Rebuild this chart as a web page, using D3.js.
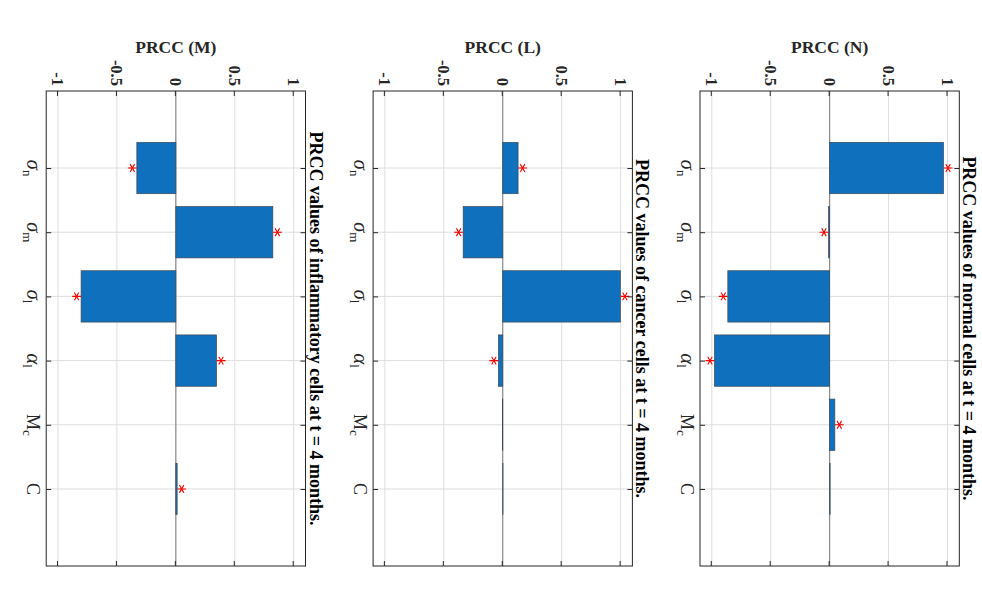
<!DOCTYPE html>
<html>
<head>
<meta charset="utf-8">
<script src="https://cdn.jsdelivr.net/npm/d3@7/dist/d3.min.js"></script>
<style>
  html, body { margin: 0; padding: 0; background: #fff; }
  svg { display: block; }
</style>
</head>
<body>
<svg id="chart" width="982" height="606"></svg>
<script>
(function () {
    "use strict";

    // categories (base symbol + subscript)
    var catBase = ["σ", "σ", "σ", "α", "M", "C"];
    var catSub = ["n", "m", "l", "l", "c", ""];
    var catItalic = [true, true, true, true, false, false];

    // PRCC values
    var valuesN = [0.966, -0.010, -0.864, -0.977, 0.044, 0.004];
    var valuesL = [0.130, -0.336, 0.998, -0.037, -0.002, 0.002];
    var valuesM = [-0.331, 0.823, -0.804, 0.345, 0.000, 0.011];

    // significance markers
    var starsN = [1, 1, 1, 1, 1, 0];
    var starsL = [1, 1, 1, 1, 0, 0];
    var starsM = [1, 1, 1, 1, 0, 1];

    var valueTicks = [-1, -0.5, 0, 0.5, 1];
    var tickLabels = ["-1", "-0.5", "0", "0.5", "1"];

    var titles = [
        "PRCC values of normal cells at t = 4 months.",
        "PRCC values of cancer cells at t = 4 months.",
        "PRCC values of inflammatory cells at t = 4 months."
    ];
    var yLabels = ["PRCC (N)", "PRCC (L)", "PRCC (M)"];

    var panels = [
        {values: valuesN, stars: starsN, title: titles[0], ylabel: yLabels[0]},
        {values: valuesL, stars: starsL, title: titles[1], ylabel: yLabels[1]},
        {values: valuesM, stars: starsM, title: titles[2], ylabel: yLabels[2]}
    ];

    var W = 982;
    var serif = "'Liberation Serif', 'Times New Roman', serif";
    var ink = "#262626";

    // the figure is drawn upright, then turned a quarter turn clockwise
    var svg = d3.select("#chart");
    svg.append("rect").attr("width", 982).attr("height", 606).attr("fill", "#fff");
    var root = svg.append("g").attr("transform", "translate(" + W + ",0) rotate(90)");

    var left = 91, right = 566;
    var panelH = 259.3, firstTop = 22.7, step = 326.9;

    var x = d3.scaleLinear().domain([-0.2, 7.2]).range([left, right]);
    var catPos = catBase.map(function (d, i) { return i + 1; });

    panels.forEach(function (p, k) {
        var top = firstTop + k * step, bottom = top + panelH;
        var y = d3.scaleLinear().domain([-1.1, 1.1]).range([bottom, top]);
        var g = root.append("g").attr("class", "panel");

        // grid
        g.append("g").selectAll("line").data(valueTicks).enter()
            .append("line")
            .attr("x1", left).attr("x2", right)
            .attr("y1", function (d) { return y(d); })
            .attr("y2", function (d) { return y(d); })
            .attr("stroke", "#dedede").attr("stroke-width", 1);
        g.append("g").selectAll("line").data(catPos).enter()
            .append("line")
            .attr("y1", top).attr("y2", bottom)
            .attr("x1", function (d) { return x(d); })
            .attr("x2", function (d) { return x(d); })
            .attr("stroke", "#dedede").attr("stroke-width", 1);

        // baseline
        g.append("line")
            .attr("x1", left).attr("x2", right)
            .attr("y1", y(0)).attr("y2", y(0))
            .attr("stroke", "#6e6e6e").attr("stroke-width", 0.9);

        // bars
        g.append("g").selectAll("rect").data(p.values).enter()
            .append("rect")
            .attr("x", function (d, i) { return x(catPos[i] - 0.4); })
            .attr("width", function (d, i) { return x(catPos[i] + 0.4) - x(catPos[i] - 0.4); })
            .attr("y", function (d) { return y(Math.max(d, 0)); })
            .attr("height", function (d) { return Math.abs(y(d) - y(0)); })
            .attr("fill", "#0f70bd")
            .attr("stroke", "#3d4a57").attr("stroke-width", 0.7);

        // stars
        var starPath = "M0,-4.5L0,4.5M-3.9,-2.25L3.9,2.25M-3.9,2.25L3.9,-2.25";
        g.append("g").selectAll("path").data(p.values.map(function (v, i) {
            return {v: v, i: i, s: p.stars[i]};
        }).filter(function (d) { return d.s; })).enter()
            .append("path")
            .attr("d", starPath)
            .attr("transform", function (d) {
                var off = d.v >= 0 ? -4.5 : 4.5;
                return "translate(" + x(catPos[d.i]) + "," + (y(d.v) + off) + ")";
            })
            .attr("stroke", "#ff0000").attr("stroke-width", 1.1).attr("fill", "none");

        // value axes
        var yAxisL = d3.axisLeft(y).tickValues(valueTicks)
            .tickFormat(function (d, i) { return tickLabels[i]; })
            .tickSizeInner(-5).tickSizeOuter(0).tickPadding(5);
        var ga = g.append("g").attr("transform", "translate(" + left + ",0)").call(yAxisL);
        ga.attr("font-family", serif).attr("font-size", 16.5).attr("font-weight", "bold");
        ga.select(".domain").remove();
        ga.selectAll("line").attr("stroke", ink);
        ga.selectAll("text").attr("fill", ink);

        var yAxisR = d3.axisRight(y).tickValues(valueTicks).tickFormat("")
            .tickSizeInner(-5).tickSizeOuter(0);
        var gr = g.append("g").attr("transform", "translate(" + right + ",0)").call(yAxisR);
        gr.select(".domain").remove();
        gr.selectAll("line").attr("stroke", ink);

        // category axes
        var xAxisB = d3.axisBottom(x).tickValues(catPos).tickFormat("")
            .tickSizeInner(-5).tickSizeOuter(0);
        var gb = g.append("g").attr("transform", "translate(0," + bottom + ")").call(xAxisB);
        gb.select(".domain").remove();
        gb.selectAll("line").attr("stroke", ink);

        var xAxisT = d3.axisTop(x).tickValues(catPos).tickFormat("")
            .tickSizeInner(-5).tickSizeOuter(0);
        var gt = g.append("g").attr("transform", "translate(0," + top + ")").call(xAxisT);
        gt.select(".domain").remove();
        gt.selectAll("line").attr("stroke", ink);

        // category labels with subscripts
        var lab = g.append("g").selectAll("text").data(catBase).enter()
            .append("text")
            .attr("x", function (d, i) { return x(catPos[i]); })
            .attr("y", bottom + 19.5)
            .attr("text-anchor", "middle")
            .attr("font-family", serif)
            .attr("font-size", 17)
            .attr("fill", ink);
        lab.append("tspan")
            .attr("font-style", function (d, i) { return catItalic[i] ? "italic" : "normal"; })
            .attr("font-size", function (d, i) { return catItalic[i] ? 21 : 18; })
            .text(function (d) { return d; });
        lab.append("tspan")
            .attr("font-size", 13)
            .attr("dy", 4)
            .text(function (d, i) { return catSub[i]; });

        // box
        g.append("rect")
            .attr("x", left).attr("y", top)
            .attr("width", right - left).attr("height", bottom - top)
            .attr("fill", "none").attr("stroke", ink).attr("stroke-width", 1);

        // title
        g.append("text")
            .attr("x", (left + right) / 2).attr("y", top - 4)
            .attr("text-anchor", "middle")
            .attr("font-family", serif).attr("font-weight", "bold")
            .attr("font-size", 18).attr("fill", "#000")
            .text(p.title);

        // y label
        g.append("text")
            .attr("transform", "translate(53," + ((top + bottom) / 2) + ") rotate(-90)")
            .attr("text-anchor", "middle")
            .attr("font-family", serif).attr("font-weight", "bold")
            .attr("font-size", 17.5).attr("fill", ink)
            .text(p.ylabel);
    });
}());
</script>
</body>
</html>
